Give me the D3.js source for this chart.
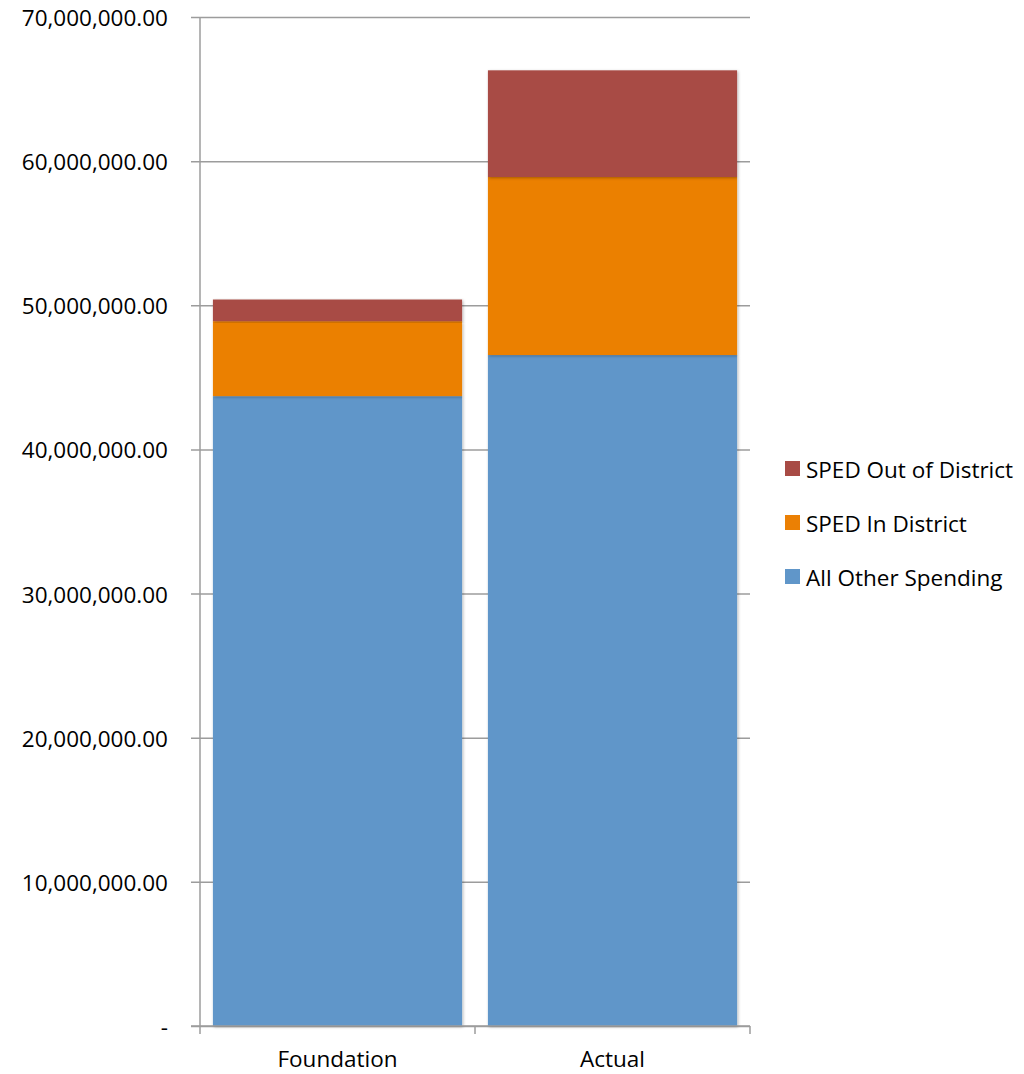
<!DOCTYPE html>
<html>
<head>
<meta charset="utf-8">
<script src="https://cdn.jsdelivr.net/npm/d3@7"></script>
<style>
  body { margin: 0; background: #fff; }
  svg { display: block; }
  svg text { font-family: "Open Sans", Lato, sans-serif; }
</style>
</head>
<body>
<svg id="chart" width="1024" height="1074"></svg>
<script>
// Spending categories (x axis) and stacked series values (dollars)
const categories = ["Foundation", "Actual"];
const allOtherSpending = [43700000, 46550000];
const spedInDistrict = [5200000, 12350000];
const spedOutOfDistrict = [1500000, 7400000];
const seriesNames = ["All Other Spending", "SPED In District", "SPED Out of District"];
const seriesColors = ["#6096c9", "#eb8004", "#a84b45"];
const yTicks = [0, 10000000, 20000000, 30000000, 40000000, 50000000, 60000000, 70000000];

const rows = categories.map((c, i) => ({
  category: c,
  "All Other Spending": allOtherSpending[i],
  "SPED In District": spedInDistrict[i],
  "SPED Out of District": spedOutOfDistrict[i]
}));

const svg = d3.select("#chart");
const margin = { left: 200, right: 274, top: 17, bottom: 48 };
const W = 1024, H = 1074;
const plotRight = W - margin.right;
const fontSize = 22.5;

const x = d3.scaleBand()
  .domain(categories)
  .range([margin.left, plotRight])
  .paddingInner(0.094)
  .paddingOuter(0.047);

const y = d3.scaleLinear()
  .domain([0, 70000000])
  .range([H - margin.bottom, margin.top]);

const color = d3.scaleOrdinal().domain(seriesNames).range(seriesColors);

// soft shadow behind bars
const defs = svg.append("defs");
const f = defs.append("filter").attr("id", "shadow")
  .attr("x", "-5%").attr("y", "-5%").attr("width", "110%").attr("height", "110%");
f.append("feDropShadow").attr("dx", 1).attr("dy", 1).attr("stdDeviation", 1.5)
  .attr("flood-color", "#000").attr("flood-opacity", 0.3);

// gridlines, each with a short tick left of the axis
const yAxis = d3.axisLeft(y)
  .tickValues(yTicks)
  .tickSize(-(plotRight - margin.left) - 9)
  .tickFormat(d => d === 0 ? "-" : d3.format(",.2f")(d));

const gy = svg.append("g")
  .attr("transform", `translate(${margin.left - 9},0)`)
  .call(yAxis)
  .attr("font-family", null);
gy.select(".domain").remove();
gy.selectAll(".tick line")
  .attr("stroke", "#9c9c9c").attr("stroke-width", 1.5);
gy.selectAll(".tick text")
  .attr("x", -23).attr("dy", "0.38em")
  .attr("fill", "#000").attr("font-size", fontSize);

// vertical axis line
svg.append("line")
  .attr("x1", margin.left).attr("x2", margin.left)
  .attr("y1", y(70000000)).attr("y2", y(0))
  .attr("stroke", "#9c9c9c").attr("stroke-width", 1.5);

// stacked bars
const stack = d3.stack().keys(seriesNames)(rows);
svg.append("g").selectAll("g")
  .data(stack)
  .join("g")
  .attr("fill", d => color(d.key))
  .selectAll("rect")
  .data(d => d)
  .join("rect")
  .attr("x", d => x(d.data.category))
  .attr("width", x.bandwidth())
  .attr("y", d => y(d[1]))
  .attr("height", d => y(d[0]) - y(d[1]))
  .attr("filter", "url(#shadow)");

// category axis
const xAxis = d3.axisBottom(x).tickSize(0).tickFormat(d => d);
const gx = svg.append("g")
  .attr("transform", `translate(0,${y(0)})`)
  .call(xAxis)
  .attr("font-family", null);
gx.select(".domain").remove();
gx.selectAll(".tick text")
  .attr("y", 41).attr("dy", 0)
  .attr("fill", "#000").attr("font-size", fontSize);

svg.append("line")
  .attr("x1", margin.left - 9).attr("x2", plotRight)
  .attr("y1", y(0)).attr("y2", y(0))
  .attr("stroke", "#9c9c9c").attr("stroke-width", 1.5);

// tick marks at band edges
const edges = [margin.left, (x("Foundation") + x.bandwidth() + x("Actual")) / 2, plotRight];
svg.append("g").selectAll("line")
  .data(edges)
  .join("line")
  .attr("x1", d => d).attr("x2", d => d)
  .attr("y1", y(0)).attr("y2", y(0) + 8)
  .attr("stroke", "#9c9c9c").attr("stroke-width", 1.5);

// legend (top series first)
const legendItems = seriesNames.slice().reverse();
const lg = svg.append("g").attr("transform", "translate(785,469)");
const li = lg.selectAll("g")
  .data(legendItems)
  .join("g")
  .attr("transform", (d, i) => `translate(0,${i * 54})`);
li.append("rect")
  .attr("x", 0).attr("y", -8).attr("width", 15).attr("height", 15)
  .attr("fill", d => color(d));
li.append("text")
  .attr("x", 21).attr("dy", "0.38em")
  .attr("font-size", fontSize).attr("fill", "#000")
  .text(d => d);
</script>
</body>
</html>
